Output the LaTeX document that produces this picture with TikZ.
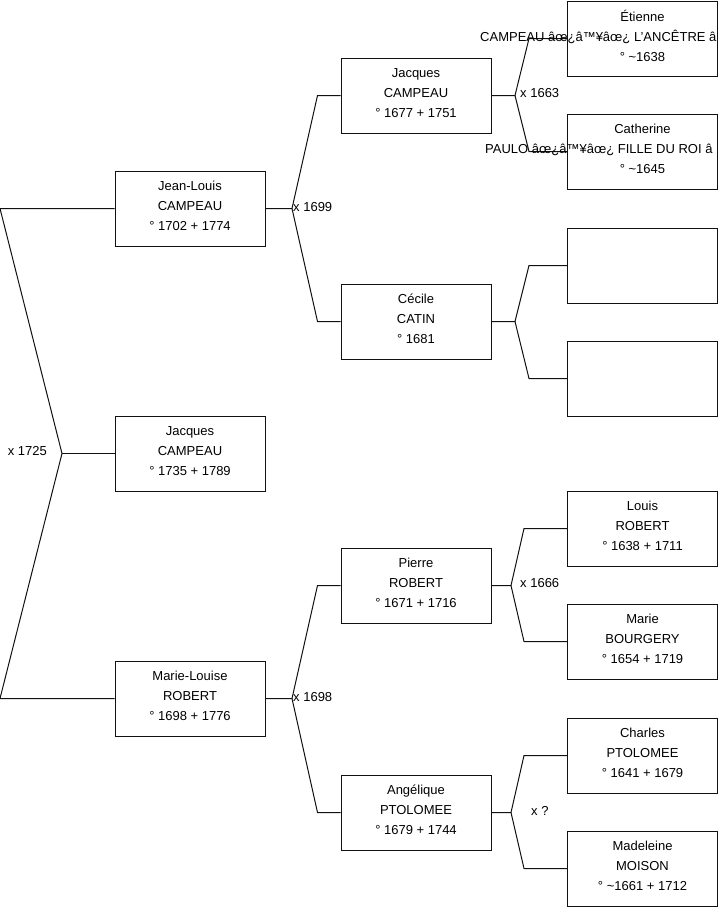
\documentclass[tikz,border=0pt]{standalone}
\usepackage{fontspec}
\setmainfont{Liberation Sans}
\usetikzlibrary{positioning}
\definecolor{Ink}{HTML}{111111}
\newcommand{\Body}{\fontsize{13}{20}\selectfont}
\tikzset{
  person/.style={draw=Ink, line width=1pt, fill=white, align=center,
                 inner sep=0pt, minimum width=150pt, minimum height=75pt, font=\Body,
                 execute at end node={\rule[-5pt]{0pt}{5pt}}},
  link/.style={draw=Ink, line width=1pt},
  wed/.style={inner sep=1pt, font=\Body},
}
\begin{document}
\begin{tikzpicture}[x=1pt,y=-1pt]
  \useasboundingbox (0,0) rectangle (719,908);
  % generation 1
  \node[person] (jeanlouis) at (190,208.5) {Jean-Louis\\CAMPEAU\\° 1702 + 1774};
  \node[person] (jacquesB) at (190,453.5) {Jacques\\CAMPEAU\\° 1735 + 1789};
  \node[person] (marielouise) at (190,698.5) {Marie-Louise\\ROBERT\\° 1698 + 1776};
  % generation 2
  \node[person] (jacquesA) at (416,95.5) {Jacques\\CAMPEAU\\° 1677 + 1751};
  \node[person] (cecile) at (416,321.5) {Cécile\\CATIN\\° 1681};
  \node[person] (pierre) at (416,585.5) {Pierre\\ROBERT\\° 1671 + 1716};
  \node[person] (angelique) at (416,812.5) {Angélique\\PTOLOMEE\\° 1679 + 1744};
  % generation 3
  \node[person] (etienne) at (642.5,38.5) {Étienne\\\phantom{X}\\° \textasciitilde1638};
  \node[person] (catherine) at (642.5,151.5) {Catherine\\\phantom{X}\\° \textasciitilde1645};
  \node[person] (blankA) at (642.5,265.5) {};
  \node[person] (blankB) at (642.5,378.5) {};
  \node[person] (louis) at (642.5,528.5) {Louis\\ROBERT\\° 1638 + 1711};
  \node[person] (marie) at (642.5,641.5) {Marie\\BOURGERY\\° 1654 + 1719};
  \node[person] (charles) at (642.5,755.5) {Charles\\PTOLOMEE\\° 1641 + 1679};
  \node[person] (madeleine) at (642.5,868.5) {Madeleine\\MOISON\\° \textasciitilde1661 + 1712};

  % marriage points
  \coordinate (m1725) at (62,453.5);
  \coordinate (m1699) at (292,208.5);
  \coordinate (m1698) at (292,698.5);
  \coordinate (m1663) at (515,95.5);
  \coordinate (mCatin) at (515,321.5);
  \coordinate (m1666) at (511,585.5);
  \coordinate (mPtol) at (511,812.5);

  \draw[link] (jeanlouis.west) -- ([xshift=-114.5pt]jeanlouis.west) -- (m1725)
    -- ([xshift=-114.5pt]marielouise.west) -- (marielouise.west);
  \draw[link] (m1725) -- (jacquesB.west);

  \draw[link] (jeanlouis.east) -- (m1699) -- ([xshift=-23pt]jacquesA.west) -- (jacquesA.west);
  \draw[link] (m1699) -- ([xshift=-23pt]cecile.west) -- (cecile.west);
  \draw[link] (marielouise.east) -- (m1698) -- ([xshift=-23pt]pierre.west) -- (pierre.west);
  \draw[link] (m1698) -- ([xshift=-23pt]angelique.west) -- (angelique.west);

  \draw[link] (jacquesA.east) -- (m1663) -- ([xshift=-38pt]etienne.west) -- (etienne.west);
  \draw[link] (m1663) -- ([xshift=-38pt]catherine.west) -- (catherine.west);
  \draw[link] (cecile.east) -- (mCatin) -- ([xshift=-38pt]blankA.west) -- (blankA.west);
  \draw[link] (mCatin) -- ([xshift=-38pt]blankB.west) -- (blankB.west);
  \draw[link] (pierre.east) -- (m1666) -- ([xshift=-43pt]louis.west) -- (louis.west);
  \draw[link] (m1666) -- ([xshift=-43pt]marie.west) -- (marie.west);
  \draw[link] (angelique.east) -- (mPtol) -- ([xshift=-43pt]charles.west) -- (charles.west);
  \draw[link] (mPtol) -- ([xshift=-43pt]madeleine.west) -- (madeleine.west);

  % labels
  \node[wed, anchor=east, xshift=-14pt, yshift=2pt] (w1725) at (m1725) {x 1725};
  \node[wed, anchor=west, yshift=1pt] (w1699) at (m1699) {x 1699};
  \node[wed, anchor=west, yshift=1pt] (w1698) at (m1698) {x 1698};
  \node[wed, anchor=west, xshift=4pt, yshift=2pt] (w1663) at (m1663) {x 1663};
  \node[wed, anchor=west, xshift=8pt, yshift=2pt] (w1666) at (m1666) {x 1666};
  \node[wed, anchor=west, xshift=19pt, yshift=2pt] (wPtol) at (mPtol) {x ?};

  % names running out of their boxes
  \node[wed, anchor=west, inner sep=0pt] (etienneName) at (480,36.5)
    {CAMPEAU âœ¿â™¥âœ¿ L'ANCÊTRE â};
  \node[wed, anchor=west, inner sep=0pt] (catherineName) at (485,149.5)
    {PAULO âœ¿â™¥âœ¿ FILLE DU ROI â};
\end{tikzpicture}
\end{document}
